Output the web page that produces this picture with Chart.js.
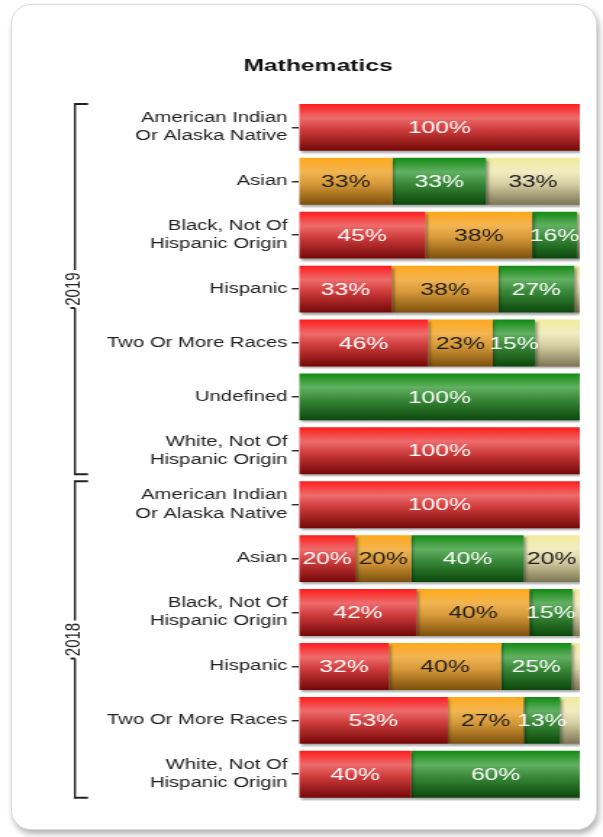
<!DOCTYPE html>
<html>
<head>
<meta charset="utf-8">
<script src="https://cdn.jsdelivr.net/npm/chart.js@4"></script>
<style>
  body { margin: 0; background: #fff; }
  #card {
    position: absolute; left: 11px; top: 4px; width: 586px; height: 826px;
    border: 1px solid #dcdcdc; border-radius: 20px; box-sizing: border-box;
    box-shadow: 2px 4px 6px rgba(0, 0, 0, 0.3); background: #fff;
  }
  /* the original picture is stretched sideways, so the canvas is too */
  #chart { position: absolute; left: 0; top: 0; transform: scaleX(1.4495); transform-origin: 0 0; }
</style>
</head>
<body>
<div id="card"></div>
<canvas id="chart" width="416" height="837" style="width:416px;height:837px"></canvas>
<script>
// rows top to bottom, two year groups
let categories = [
    ['American Indian', 'Or Alaska Native'], 'Asian', ['Black, Not Of', 'Hispanic Origin'], 'Hispanic',
    'Two Or More Races', 'Undefined', ['White, Not Of', 'Hispanic Origin'],
    ['American Indian', 'Or Alaska Native'], 'Asian', ['Black, Not Of', 'Hispanic Origin'], 'Hispanic',
    'Two Or More Races', ['White, Not Of', 'Hispanic Origin']
]
let years = ['2019', '2018']
let groupSizes = [7, 6]

// percent of students in each level
let notMet      = [100, 0,    45, 33, 46, 0,   100, 100, 20, 42,   32, 53, 40]
let approaching = [0,   33.3, 38, 38, 23, 0,   0,   0,   20, 40,   40, 27, 0]
let met         = [0,   33.3, 16, 27, 15, 100, 0,   0,   40, 15.4, 25, 13, 60]
let exceeded    = [0,   33.4, 1,  2,  16, 0,   0,   0,   20, 2.6,  3,  7,  0]

// segments the original leaves without a label: [row, series]
let hiddenLabels = [[4, 3], [11, 3]]

const barPct = 0.87

// vertical gradient for each bar
function barGradient(stops) {
    return function (c) {
        let chart = c.chart
        let y = chart.scales.y
        if (c.type !== 'data' || !chart.chartArea || !y) return stops[1][1]
        let band = y.getPixelForValue(1) - y.getPixelForValue(0)
        let mid = y.getPixelForValue(c.dataIndex)
        let half = band * barPct / 2
        let g = chart.ctx.createLinearGradient(0, mid - half, 0, mid + half)
        stops.forEach(s => g.addColorStop(s[0], s[1]))
        return g
    }
}

let series = [
    {label: 'Not Met', data: notMet, text: '#ffffff',
        stops: [[0, '#ff1c1c'], [0.3, '#ee6c6c'], [0.55, '#cf3c3c'], [1, '#740808']]},
    {label: 'Approaching', data: approaching, text: '#1c1c1c',
        stops: [[0, '#ffa91a'], [0.3, '#f2b552'], [0.55, '#d89a3a'], [1, '#7d500c']]},
    {label: 'Met', data: met, text: '#ffffff',
        stops: [[0, '#138a13'], [0.3, '#62b062'], [0.55, '#3a8a3a'], [1, '#0b470b']]},
    {label: 'Exceeded', data: exceeded, text: '#1c1c1c',
        stops: [[0, '#f3eb9c'], [0.3, '#f1ecc2'], [0.55, '#d6d0a4'], [1, '#7c7654']]}
]

// bar shadow + percent labels inside the bars
let barLabels = {
    id: 'barLabels',
    beforeDatasetsDraw(chart) {
        let ctx = chart.ctx
        ctx.save()
        ctx.shadowColor = 'rgba(0,0,0,0.35)'
        ctx.shadowOffsetX = 1.5
        ctx.shadowOffsetY = 2
        ctx.shadowBlur = 2
    },
    afterDatasetsDraw(chart) {
        let ctx = chart.ctx
        ctx.restore()
        ctx.save()
        ctx.font = '17px "Liberation Sans", Arial, sans-serif'
        ctx.textAlign = 'center'
        ctx.textBaseline = 'middle'
        chart.data.datasets.forEach((ds, di) => {
            chart.getDatasetMeta(di).data.forEach((bar, i) => {
                let v = ds.data[i]
                if (v < 5) return
                if (hiddenLabels.some(h => h[0] === i && h[1] === di)) return
                ctx.fillStyle = series[di].text
                ctx.fillText(Math.round(v) + '%', (bar.x + bar.base) / 2, bar.y + 1)
            })
        })
        ctx.restore()
    }
}

// year brackets on the left
let yearBrackets = {
    id: 'yearBrackets',
    afterDraw(chart) {
        let ctx = chart.ctx
        let y = chart.scales.y
        let band = y.getPixelForValue(1) - y.getPixelForValue(0)
        let half = band * barPct / 2
        let lineX = 51.7
        let start = 0
        ctx.save()
        ctx.strokeStyle = '#222'
        ctx.fillStyle = '#222'
        years.forEach((year, i) => {
            let end = start + groupSizes[i] - 1
            let top = y.getPixelForValue(start) - half
            let bottom = y.getPixelForValue(end) + half
            let mid = (top + bottom) / 2
            ctx.lineWidth = 1.4
            ctx.beginPath()
            ctx.moveTo(lineX, top)
            ctx.lineTo(lineX, mid - 19)
            ctx.moveTo(lineX, mid + 19)
            ctx.lineTo(lineX, bottom)
            ctx.stroke()
            ctx.lineWidth = 2
            ctx.beginPath()
            ctx.moveTo(lineX - 0.7, top)
            ctx.lineTo(60.7, top)
            ctx.moveTo(lineX - 0.7, bottom)
            ctx.lineTo(60.7, bottom)
            ctx.moveTo(lineX - 3, mid + 19)
            ctx.lineTo(lineX, mid + 19)
            ctx.stroke()
            ctx.save()
            ctx.translate(lineX - 0.5, mid)
            ctx.rotate(-Math.PI / 2)
            ctx.font = '15px "Liberation Sans", Arial, sans-serif'
            ctx.textAlign = 'center'
            ctx.textBaseline = 'middle'
            ctx.fillText(year, 0, 0)
            ctx.restore()
            start = end + 1
        })
        ctx.restore()
    }
}

let chart = new Chart(document.getElementById('chart'), {
    type: 'bar',
    data: {
        labels: categories,
        datasets: series.map(s => ({
            label: s.label,
            data: s.data,
            backgroundColor: barGradient(s.stops),
            borderWidth: 0,
            categoryPercentage: 1,
            barPercentage: barPct
        }))
    },
    options: {
        indexAxis: 'y',
        responsive: false,
        animation: false,
        layout: {padding: {left: 38.8, right: 16, top: 0, bottom: 35.8}},
        plugins: {
            legend: {display: false},
            tooltip: {enabled: false},
            title: {
                display: true,
                text: 'Mathematics',
                color: '#111',
                font: {family: '"Liberation Sans", Arial, sans-serif', size: 17, weight: 'bold', lineHeight: 1.2},
                padding: {top: 56, bottom: 24}
            }
        },
        scales: {
            x: {stacked: true, display: false, min: 0, max: 100},
            y: {
                stacked: true,
                afterFit: s => { s.width = 167.5 },
                border: {display: false},
                grid: {drawOnChartArea: false, drawTicks: true, tickLength: 5, offset: false, color: '#333', lineWidth: 1.5},
                ticks: {
                    autoSkip: false,
                    padding: 3,
                    color: '#222',
                    font: {family: '"Liberation Sans", Arial, sans-serif', size: 14, lineHeight: 1.3}
                }
            }
        }
    },
    plugins: [barLabels, yearBrackets]
})
</script>
</body>
</html>
